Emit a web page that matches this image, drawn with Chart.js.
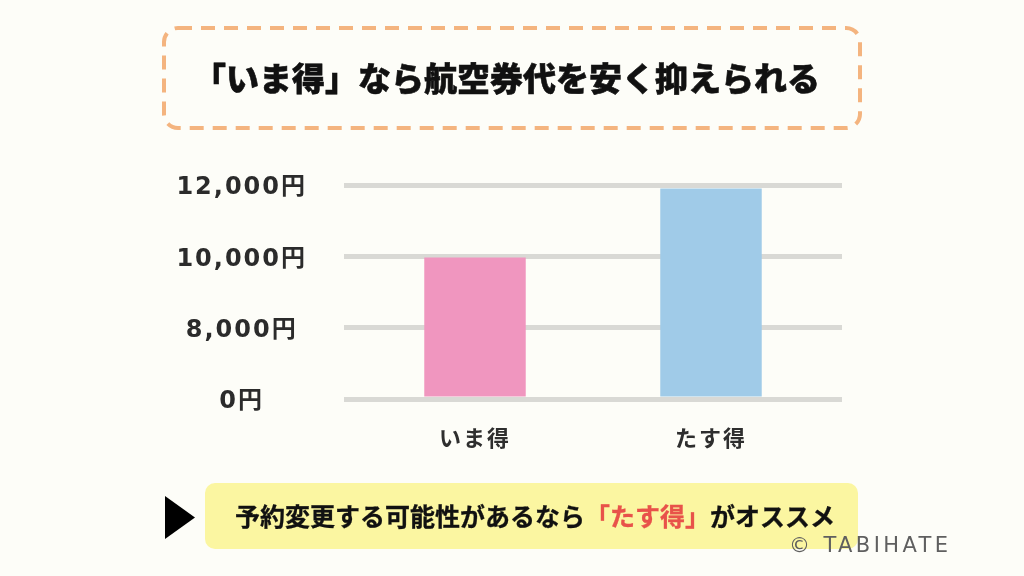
<!DOCTYPE html>
<html><head><meta charset="utf-8">
<script src="https://cdn.jsdelivr.net/npm/chart.js@4"></script>
<style>
html,body{margin:0;padding:0;background:#fdfdf8;}
#wrap{position:relative;width:1024px;height:576px;overflow:hidden;background:#fdfdf8;}
#deco{position:absolute;left:0;top:0;}
#chart{position:absolute;left:0;top:0;}
.t{position:absolute;white-space:nowrap;font-family:"Noto Sans CJK JP","Noto Sans CJK SC",sans-serif;}
#title{left:193px;top:59px;font-size:33px;line-height:36px;font-weight:900;color:#111;-webkit-text-stroke:0.6px #111;}
#note{left:235px;top:500px;font-size:25px;line-height:30px;font-weight:700;color:#111;-webkit-text-stroke:0.3px #111;}
#note span{color:#e8524a;-webkit-text-stroke:0.3px #e8524a;}
#copy{left:789px;top:531px;font-family:"DejaVu Sans",sans-serif;font-size:21px;line-height:28px;letter-spacing:3.4px;color:#5f5f5f;}
</style></head>
<body><div id="wrap">
<svg id="deco" width="1024" height="576">
<rect x="164" y="28" width="696" height="100" rx="14" ry="14" fill="none" stroke="#f4b47f" stroke-width="4" stroke-dasharray="14 9"/>
<polygon points="165,496 195,517.5 165,539" fill="#000"/>
<rect x="205" y="483" width="653" height="66" rx="10" ry="10" fill="#fbf6a1"/>
</svg>
<canvas id="chart" width="1024" height="576"></canvas>
<div class="t" id="title">「いま得」なら航空券代を安く抑えられる</div>
<div class="t" id="note">予約変更する可能性があるなら<span>「たす得」</span>がオススメ</div>
<div class="t" id="copy">© TABIHATE</div>
</div>
<script>
// ---- data ----
const categories = ['いま得', 'たす得'];
const prices = [9970, 11900];
const yTickValues = [0, 8000, 10000, 12000];
const barColors = ['#f096bf', '#a0cbe8'];

// broken (piecewise) value axis: each tick interval gets equal height
class BrokenScale extends Chart.LinearScale {
  determineDataLimits() {
    this.min = yTickValues[0];
    this.max = yTickValues[yTickValues.length - 1];
  }
  buildTicks() {
    return yTickValues.map(v => ({ value: v }));
  }
  _dec(v) {
    const t = yTickValues, n = t.length - 1;
    if (v <= t[0]) return 0;
    for (let i = 0; i < n; i++) {
      if (v <= t[i + 1]) return (i + (v - t[i]) / (t[i + 1] - t[i])) / n;
    }
    return 1 + (v - t[n]) / (t[n] - t[n - 1]) / n;
  }
  getPixelForValue(v) {
    if (v === null || v === undefined || isNaN(v)) return NaN;
    return this.getPixelForDecimal(this._dec(v));
  }
  getValueForPixel(p) {
    const t = yTickValues, n = t.length - 1;
    const d = this.getDecimalForPixel(p) * n;
    const i = Math.min(Math.max(Math.floor(d), 0), n - 1);
    return t[i] + (d - i) * (t[i + 1] - t[i]);
  }
}
BrokenScale.id = 'broken';
BrokenScale.defaults = Chart.LinearScale.defaults;
Chart.register(BrokenScale);

const spacingPlugin = {
  id: 'spacing',
  beforeUpdate(c) { c.ctx.letterSpacing = '2px'; },
  beforeLayout(c) { c.ctx.letterSpacing = '2px'; },
  beforeDraw(c) { c.ctx.letterSpacing = '2px'; }
};

const gridGray = '#d9d9d5';

new Chart(document.getElementById('chart'), {
  type: 'bar',
  data: {
    labels: categories,
    datasets: [{
      data: prices,
      backgroundColor: barColors,
      borderWidth: 0,
      categoryPercentage: 1,
      barPercentage: 0.43
    }]
  },
  options: {
    responsive: false,
    animation: false,
    events: [],
    layout: { padding: { top: 185, left: 0, right: 182, bottom: 117 } },
    plugins: { legend: { display: false }, tooltip: { enabled: false }, title: { display: false } },
    scales: {
      x: {
        type: 'category',
        offset: true,
        grid: { display: false },
        border: { display: true, color: gridGray, width: 5, z: 1 },
        ticks: {
          color: '#2e2e2e',
          padding: 17,
          font: { family: '"Noto Sans CJK JP"', size: 22, weight: 'bold' }
        },
        afterFit(s) { s.height = 60; }
      },
      y: {
        type: 'broken',
        position: 'left',
        grid: { color: gridGray, lineWidth: 5, drawTicks: true, tickLength: 13, tickColor: gridGray, tickWidth: 5 },
        border: { display: false },
        ticks: {
          color: '#2b2b2b',
          padding: 37,
          labelOffset: 3,
          crossAlign: 'center',
          font: { family: '"DejaVu Sans", "Noto Sans CJK JP"', size: 24, weight: 'bold' },
          callback: v => v.toLocaleString('en-US') + '円'
        },
        afterFit(s) { s.width = 357; }
      },
      y2: {
        type: 'broken',
        position: 'right',
        grid: { drawOnChartArea: false, drawTicks: true, tickLength: 13, tickColor: gridGray, tickWidth: 5, lineWidth: 5, color: gridGray },
        border: { display: false },
        ticks: { display: false },
        afterFit(s) { s.width = 13; }
      }
    }
  },
  plugins: [spacingPlugin]
});
</script>
</body></html>
